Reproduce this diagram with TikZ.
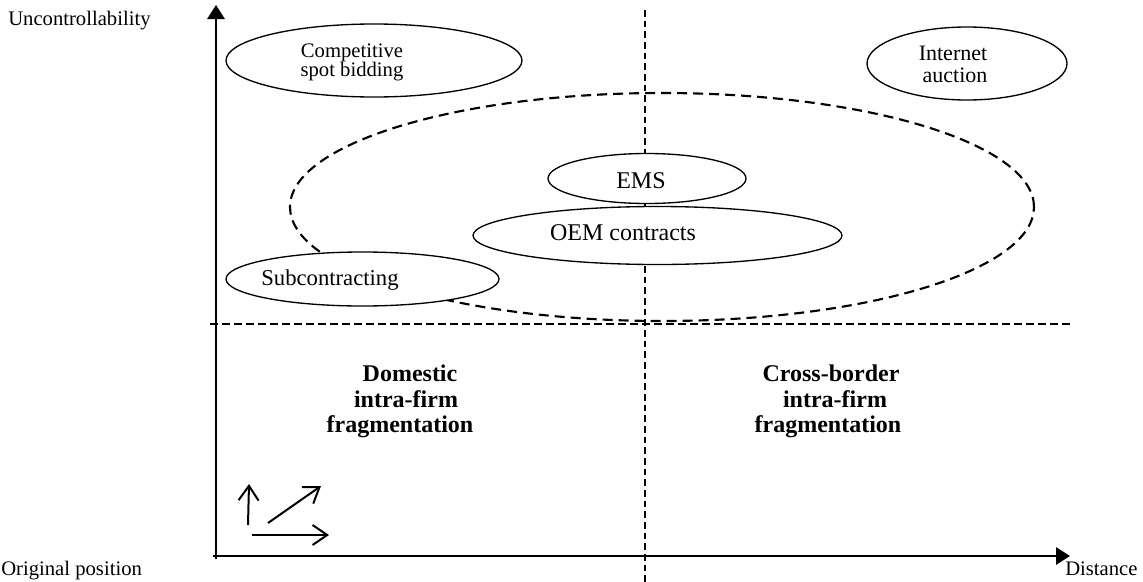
\documentclass[tikz,border=0pt]{standalone}
\usepackage{fontspec}
\setmainfont{Liberation Serif}
\usetikzlibrary{arrows.meta,shapes.geometric}

\begin{document}
\begin{tikzpicture}[
  x=0.75pt, y=-0.75pt,
  axis/.style={line width=1.5pt, -{Triangle[length=10.5pt,width=13pt]}},
  guide/.style={line width=0.8pt, dash pattern=on 6pt off 3pt},
  divider/.style={line width=1.2pt, dash pattern=on 5pt off 3pt},
  region/.style={line width=1.6pt, dash pattern=on 7.5pt off 4.5pt},
  bubble/.style={ellipse, draw, fill=white, line width=1pt, inner sep=0pt},
  lbl/.style={anchor=base, inner sep=0pt, font=\fontsize{16.5}{18}\selectfont},
  axlbl/.style={anchor=base west, inner sep=0pt, font=\fontsize{15.5}{18}\selectfont},
  zone/.style={anchor=base, inner sep=0pt, font=\fontsize{18}{20}\selectfont\bfseries},
  hint/.style={line width=1.5pt, -{Straight Barb[length=11pt,width=15pt]}}
]
\useasboundingbox (0,0) rectangle (1143,582);

% guide lines splitting the plane
\coordinate (vtop) at (645,10);
\coordinate (vbot) at (645,582);
\coordinate (hl) at (210,324);
\coordinate (hr) at (1070,324);
\draw[divider] (vtop) -- (vbot);
\draw[guide] (hl) -- (hr);

% axes
\coordinate (ybot) at (216,559);
\coordinate (ytop) at (216,5);
\coordinate (xl) at (213,556);
\coordinate (xr) at (1070,556);
\draw[axis] (ybot) -- (ytop);
\draw[axis] (xl) -- (xr);

% outsourcing region
\draw[region] (662,207) ellipse [x radius=279pt, y radius=85.5pt];

% governance forms
\node[bubble, minimum width=222pt, minimum height=54.75pt] (comp) at (374,60.5) {};
\node[bubble, minimum width=150pt, minimum height=54.75pt] (inet) at (967,63.5) {};
\node[bubble, minimum width=148.5pt, minimum height=37.5pt] (ems) at (647,178.5) {};
\node[bubble, minimum width=276.75pt, minimum height=43.5pt] (oem) at (657.5,235.5) {};
\node[bubble, minimum width=204.75pt, minimum height=40.5pt] (sub) at (362.5,279) {};

\node[lbl, font=\fontsize{15.5}{18}\selectfont] (comp1) at (352,57) {Competitive};
\node[lbl, font=\fontsize{15.5}{18}\selectfont] (comp2) at (352,76) {spot bidding};
\node[lbl] (inet1) at (953,60) {Internet};
\node[lbl] (inet2) at (955,82) {auction};
\node[lbl, font=\fontsize{18}{20}\selectfont] (emsl) at (641,188) {EMS};
\node[lbl, font=\fontsize{18}{20}\selectfont] (oeml) at (623,240) {OEM contracts};
\node[lbl, font=\fontsize{17}{20}\selectfont] (subl) at (330,285) {Subcontracting};

% quadrant labels
\node[zone] (dom1) at (410,381) {Domestic};
\node[zone] (dom2) at (406,407) {intra-firm};
\node[zone] (dom3) at (400,432) {fragmentation};
\node[zone] (cb1) at (831,381) {Cross-border};
\node[zone] (cb2) at (835,407) {intra-firm};
\node[zone] (cb3) at (828,432) {fragmentation};

% axis labels
\node[axlbl] (ylab) at (8,25) {Uncontrollability};
\node[axlbl] (olab) at (1,575) {Original position};
\node[axlbl] (xlab) at (1065,575) {Distance};

% direction hints
\coordinate (h1s) at (248,525);
\coordinate (h1e) at (249,484);
\coordinate (h2s) at (268,523);
\coordinate (h2e) at (321,486);
\coordinate (h3s) at (252,535);
\coordinate (h3e) at (329,535);
\draw[hint] (h1s) -- (h1e);
\draw[hint] (h2s) -- (h2e);
\draw[hint] (h3s) -- (h3e);
\end{tikzpicture}
\end{document}
